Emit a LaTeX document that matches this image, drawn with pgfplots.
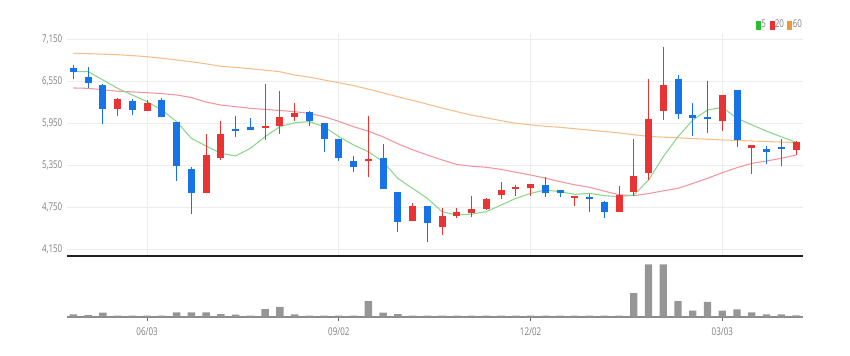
\documentclass[border=0pt]{standalone}
\usepackage{pgfplots}
\usepackage{pgfplotstable}
\pgfplotsset{compat=1.18}
\usepackage{fontspec}
\setmainfont{Open Sans}[FakeStretch=0.75]

\definecolor{cup}{RGB}{232,52,52}
\definecolor{cdn}{RGB}{22,116,230}
\definecolor{ma5}{RGB}{140,214,140}
\definecolor{ma20}{RGB}{241,150,160}
\definecolor{ma60}{RGB}{246,190,140}
\definecolor{lg5}{RGB}{40,190,50}
\definecolor{lg20}{RGB}{230,50,50}
\definecolor{lg60}{RGB}{240,150,60}
\definecolor{volc}{RGB}{150,150,150}
\definecolor{txt}{RGB}{125,125,125}

% rising candles (red): index, open, high, low, close
\pgfplotstableread{
i o h l c
3 6156 6318 6056 6294
5 6123 6285 6123 6228
9 4953 5795 4953 5495
10 5453 5985 5429 5795
13 5880 6513 5714 5909
14 5914 6418 5800 6037
15 6047 6247 5990 6085
20 5410 6056 5186 5438
23 4559 4811 4559 4763
25 4478 4749 4359 4616
26 4635 4739 4606 4677
27 4677 4915 4620 4716
28 4730 4891 4716 4868
29 4929 5115 4868 4996
30 5010 5067 4920 5029
31 5024 5072 4915 5072
34 4882 4901 4768 4901
37 4692 5063 4692 4920
38 4977 5724 4915 5196
39 5248 6579 5143 6004
40 6128 7036 5995 6489
44 5985 6346 5842 6346
46 5600 5628 5229 5628
49 5567 5700 5500 5676
}\up

% falling candles (blue): index, open, high, low, close
\pgfplotstableread{
i o h l c
0 6736 6784 6579 6679
1 6603 6751 6451 6532
2 6489 6508 5942 6156
4 6256 6294 6066 6147
6 6270 6308 6042 6042
7 5957 5976 5134 5343
8 5296 5324 4658 4953
11 5866 6056 5752 5838
12 5885 6023 5852 5852
16 6109 6128 5914 5985
17 5952 5952 5548 5733
18 5719 5719 5414 5462
19 5400 5486 5262 5334
21 5448 5652 5010 5010
22 4963 4963 4406 4544
24 4768 4768 4259 4525
32 5063 5186 4906 4958
33 4996 4996 4901 4963
35 4891 4948 4692 4872
36 4815 4844 4606 4687
41 6579 6641 6009 6080
42 6056 6237 5776 6033
43 6028 6556 5809 6009
45 6423 6423 5609 5709
47 5571 5633 5372 5548
48 5609 5724 5343 5590
}\down

% moving averages: index, MA5, MA20, MA60
\pgfplotstableread{
i m5 m20 m60
0 6689 6456 6950
1 6689 6451 6945
2 6570 6430 6938
3 6451 6410 6930
4 6356 6400 6918
5 6261 6389 6902
6 6142 6375 6880
7 5976 6356 6855
8 5738 6320 6830
9 5629 6255 6800
10 5524 6213 6765
11 5486 6190 6750
12 5595 6166 6730
13 5762 6150 6710
14 5904 6135 6688
15 5961 6118 6641
16 5976 6094 6610
17 5904 6046 6570
18 5762 5980 6531
19 5643 5904 6490
20 5548 5840 6440
21 5405 5760 6385
22 5167 5660 6332
23 5024 5575 6280
24 4882 5500 6225
25 4692 5430 6170
26 4644 5365 6118
27 4658 5340 6070
28 4692 5325 6030
29 4787 5295 5990
30 4882 5255 5952
31 4953 5215 5930
32 5001 5170 5910
33 4977 5120 5895
34 4939 5075 5875
35 4953 5040 5855
36 4920 4985 5835
37 4906 4934 5815
38 4929 4920 5790
39 5143 4950 5765
40 5476 4990 5755
41 5762 5025 5745
42 6000 5095 5735
43 6142 5168 5725
44 6180 5248 5714
45 6023 5320 5708
46 5930 5381 5700
47 5840 5415 5692
48 5760 5453 5685
49 5680 5500 5678
}\ma

% volume: index, value
\pgfplotstableread{
i v
0 7
1 5
2 12
3 3
4 3
5 3
6 3
7 13
8 13
9 13
10 8
11 6
12 3
13 23
14 30
15 7
16 3
17 3
18 3
19 3
20 47
21 12
22 8
23 3
24 3
25 3
26 3
27 3
28 3
29 3
30 3
31 3
32 3
33 3
34 3
35 3
36 3
37 3
38 71
39 158
40 158
41 47
42 18
43 45
44 18
45 22
46 13
47 7
48 7
49 4
}\vol

\pgfplotsset{candle/.style={forget plot, only marks, mark=none, mark size=0pt,
  mark options={draw=none, fill=none},
  error bars/.cd, y dir=plus, y explicit, error mark=none}}

\begin{document}
\begin{tikzpicture}
\path[use as bounding box] (0,0) rectangle (637.5pt,267pt);

\begin{axis}[
  at={(50.25pt,75pt)}, anchor=south west, scale only axis,
  width=552pt, height=167.25pt,
  xmin=-0.43, xmax=49.47, ymin=4060, ymax=7240,
  ytick={4150,4750,5350,5950,6550,7150},
  yticklabels={{4,150},{4,750},{5,350},{5,950},{6,550},{7,150}},
  xtick={5,18,31,44}, xticklabels={},
  ymajorgrids, xmajorgrids,
  grid style={draw=black!7, line width=0.6pt},
  axis x line*=bottom, axis y line*=left,
  x axis line style={draw=black!88, line width=1.4pt, -},
  y axis line style={draw=none},
  major tick length=0pt, tick style={draw=none},
  yticklabel style={font=\fontsize{8}{9}\selectfont, text=txt},
  legend columns=3,
  legend style={at={(1,1)}, anchor=south east, yshift=2pt, draw=none, fill=none,
    inner sep=0pt, font=\fontsize{8}{9}\selectfont, text=txt,
    nodes={inner sep=0.6pt},
    /tikz/every even column/.append style={column sep=2pt}},
]
\addplot[color=ma60, line width=0.8pt, forget plot] table[x=i, y=m60] {\ma};
\addplot[color=ma20, line width=0.8pt, forget plot] table[x=i, y=m20] {\ma};
\addplot[color=ma5, line width=0.8pt, forget plot] table[x=i, y=m5] {\ma};

% wicks
\addplot[candle, error bar style={cup, line width=0.75pt}]
  table[x=i, y=l, y error plus expr=\thisrow{h}-\thisrow{l}] {\up};
\addplot[candle, error bar style={cdn, line width=0.75pt}]
  table[x=i, y=l, y error plus expr=\thisrow{h}-\thisrow{l}] {\down};
% bodies
\addplot[candle, error bar style={cup, line width=5.25pt}]
  table[x=i, y=o, y error plus expr=\thisrow{c}-\thisrow{o}+8] {\up};
\addplot[candle, error bar style={cdn, line width=5.25pt}]
  table[x=i, y=c, y error plus expr=\thisrow{o}-\thisrow{c}+8] {\down};

% legend entries
\addlegendimage{legend image code/.code={\fill[lg5] (0pt,-3.3pt) rectangle (3pt,2.7pt);}}
\addlegendentry{5}
\addlegendimage{legend image code/.code={\fill[lg20] (0pt,-3.3pt) rectangle (3pt,2.7pt);}}
\addlegendentry{20}
\addlegendimage{legend image code/.code={\fill[lg60] (0pt,-3.3pt) rectangle (3pt,2.7pt);}}
\addlegendentry{60}
\end{axis}

\begin{axis}[
  at={(50.25pt,29.475pt)}, anchor=south west, scale only axis,
  width=552pt, height=44pt,
  xmin=-0.43, xmax=49.47, ymin=0, ymax=177,
  axis x line*=bottom, axis y line*=left,
  y axis line style={draw=none}, ytick=\empty,
  x axis line style={draw=black!45, line width=1.4pt, -},
  xtick={5,18,31,44}, xticklabels={06/03,09/02,12/02,03/03},
  tick align=outside, major tick length=3pt,
  xtick style={draw=black!60, line width=0.75pt},
  xticklabel style={font=\fontsize{8}{9}\selectfont, text=txt, yshift=-2pt},
]
\addplot[ybar, bar width=5.5pt, bar shift=0pt, fill=volc, draw=none] table[x=i, y=v] {\vol};
\end{axis}
\end{tikzpicture}
\end{document}
